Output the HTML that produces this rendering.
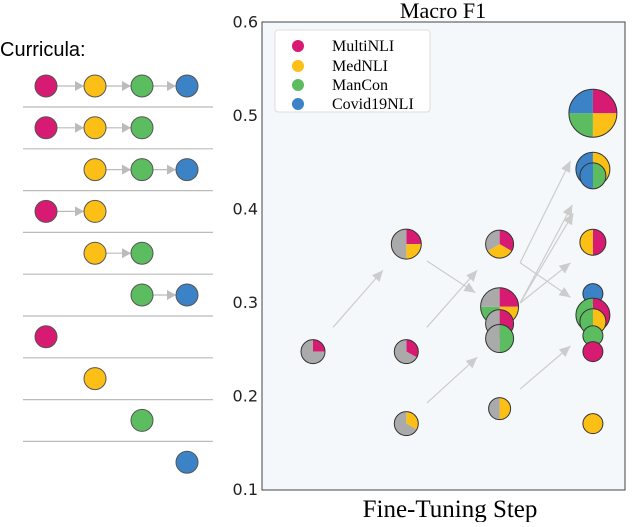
<!DOCTYPE html>
<html><head><meta charset="utf-8"><style>
body{margin:0;background:#fff;width:640px;height:522px;overflow:hidden;font-family:"Liberation Sans",sans-serif}
</style></head><body>
<svg id="s" width="640" height="522">
<text x="0" y="56" font-size="20" font-family="Liberation Sans, sans-serif">Curricula:</text>
<g id="cur"></g>
<rect x="262" y="22" width="363" height="468" fill="#f5f8fb" stroke="#444" stroke-width="1"/>
<text x="443" y="18" text-anchor="middle" font-size="22" font-family="Liberation Serif, serif">Macro F1</text>
<text x="450" y="517" text-anchor="middle" font-size="25" font-family="Liberation Serif, serif">Fine-Tuning Step</text>
<g id="ticks"></g>
<g id="arrows"></g>
<g id="pies"></g>
<g>
<rect x="275" y="30" width="155" height="82" rx="3" fill="#fff" stroke="#ddd"/>
<circle cx="298" cy="46" r="6" fill="#d81b72"/><text x="332" y="51" font-size="16" font-family="Liberation Serif, serif">MultiNLI</text>
<circle cx="298" cy="66" r="6" fill="#fbbf16"/><text x="332" y="71" font-size="16" font-family="Liberation Serif, serif">MedNLI</text>
<circle cx="298" cy="85" r="6" fill="#5cbd60"/><text x="332" y="90" font-size="16" font-family="Liberation Serif, serif">ManCon</text>
<circle cx="298" cy="104" r="6" fill="#3b82c6"/><text x="332" y="109" font-size="16" font-family="Liberation Serif, serif">Covid19NLI</text>
</g>
</svg>
<script>
const C={M:'#d81b72',Y:'#fbbf16',G:'#5cbd60',B:'#3b82c6',X:'#aaaaaa'};
const yTicks=[0.1,0.2,0.3,0.4,0.5,0.6];
const pointSteps=[1,2,2,2,3,3,3,3,3,4,4,4,4,4,4,4,4,4,4];
const pointValues=[0.248,0.363,0.248,0.171,0.363,0.296,0.278,0.262,0.187,0.503,0.443,0.436,0.365,0.31,0.287,0.28,0.265,0.248,0.171];
const pointSizes=[12,15,12,12,14,19,14,14,11,24,17,13,13,10,17,13,10,10,10];
const pointSlices=[
 [['M',.25],['X',.75]],
 [['M',.25],['Y',.25],['X',.5]],
 [['M',.33],['X',.67]],
 [['Y',.33],['X',.67]],
 [['M',.333],['Y',.333],['X',.334]],
 [['M',.25],['Y',.25],['G',.25],['X',.25]],
 [['M',.5],['X',.5]],
 [['G',.5],['X',.5]],
 [['Y',.5],['X',.5]],
 [['M',.25],['Y',.25],['G',.25],['B',.25]],
 [['Y',.5],['B',.5]],
 [['G',.5],['B',.5]],
 [['M',.5],['Y',.5]],
 [['B',1]],
 [['M',.5],['G',.5]],
 [['Y',.5],['G',.5]],
 [['G',1]],
 [['M',1]],
 [['Y',1]]
];
const arrowFrom=[[1.215,0.274],[2.22,0.345],[2.22,0.274],[2.22,0.193],[3.22,0.343],[3.22,0.343],[3.22,0.300],[3.22,0.300],[3.22,0.300],[3.22,0.208]];
const arrowTo=[[1.75,0.335],[2.74,0.311],[2.76,0.335],[2.76,0.242],[3.76,0.306],[3.76,0.452],[3.79,0.396],[3.78,0.405],[3.76,0.343],[3.76,0.254]];
const NS='http://www.w3.org/2000/svg';
function X(s){return 313+(s-1)*93.3;}
function Y(v){return 490-(v-0.1)*935;}
function el(t,a,p){const e=document.createElementNS(NS,t);for(const k in a)e.setAttribute(k,a[k]);p.appendChild(e);return e;}
const tk=document.getElementById('ticks');
yTicks.forEach(v=>{
 const t=el('text',{x:258,y:Y(v)+5,'text-anchor':'end','font-size':16,'font-family':'DejaVu Sans, sans-serif',fill:'#222'},tk);
 t.textContent=v.toFixed(1);
 
 
});
const ar=document.getElementById('arrows');
arrowFrom.forEach((f,i)=>{
 const t=arrowTo[i];
 const x1=X(f[0]),y1=Y(f[1]),x2=X(t[0]),y2=Y(t[1]);
 const l=el('line',{x1,y1,x2,y2,stroke:'#ccc','stroke-width':1.2},ar);
 
 
 const a=Math.atan2(y2-y1,x2-x1),L=11,W=5;
 const px=x2-L*Math.cos(a),py=y2-L*Math.sin(a);
 el('polygon',{points:`${x2},${y2} ${px-W*Math.sin(a)},${py+W*Math.cos(a)} ${px+W*Math.sin(a)},${py-W*Math.cos(a)}`,fill:'#ccc'},ar);
});
const pg=document.getElementById('pies');
function pie(cx,cy,r,sl,g){
 let ang=0;
 sl.forEach(([c,f])=>{
  if(f>=0.999){el('circle',{cx,cy,r,fill:C[c]},g);return;}
  const a0=ang*2*Math.PI,a1=(ang+f)*2*Math.PI;ang+=f;
  const x0=cx+r*Math.sin(a0),y0=cy-r*Math.cos(a0),x1=cx+r*Math.sin(a1),y1=cy-r*Math.cos(a1);
  el('path',{d:`M${cx},${cy}L${x0},${y0}A${r},${r} 0 ${f>0.5?1:0} 1 ${x1},${y1}Z`,fill:C[c]},g);
 });
 el('circle',{cx,cy,r,fill:'none',stroke:'#333','stroke-width':1},g);
}
pointValues.forEach((v,i)=>{
 const g=el('g',{},pg);
 
 
 pie(X(pointSteps[i]),Y(v),pointSizes[i],pointSlices[i],g);
});
const curRows=[['M','Y','G','B'],['M','Y','G',''],['','Y','G','B'],['M','Y','',''],['','Y','G',''],['','','G','B'],['M','','',''],['','Y','',''],['','','G',''],['','','','B']];
const cg=document.getElementById('cur');
const cx=[46,95,142,187];
curRows.forEach((row,i)=>{
 const y=86+i*41.8;
 if(i<curRows.length-1) el('line',{x1:23,y1:y+21,x2:213,y2:y+21,stroke:'#bbb','stroke-width':1.2},cg);
 for(let j=0;j<3;j++){
  if(row[j]&&row[j+1]){
   el('line',{x1:cx[j]+11,y1:y,x2:cx[j+1]-11,y2:y,stroke:'#bbb','stroke-width':1.2},cg);
   el('polygon',{points:`${cx[j+1]-11},${y} ${cx[j+1]-20},${y-5} ${cx[j+1]-20},${y+5}`,fill:'#bbb'},cg);
  }
 }
 row.forEach((c,j)=>{if(c){
  const k=el('circle',{cx:cx[j],cy:y,r:11,fill:C[c],stroke:'#555','stroke-width':1},cg);
  
  
 }});
});
</script>
</body></html>
